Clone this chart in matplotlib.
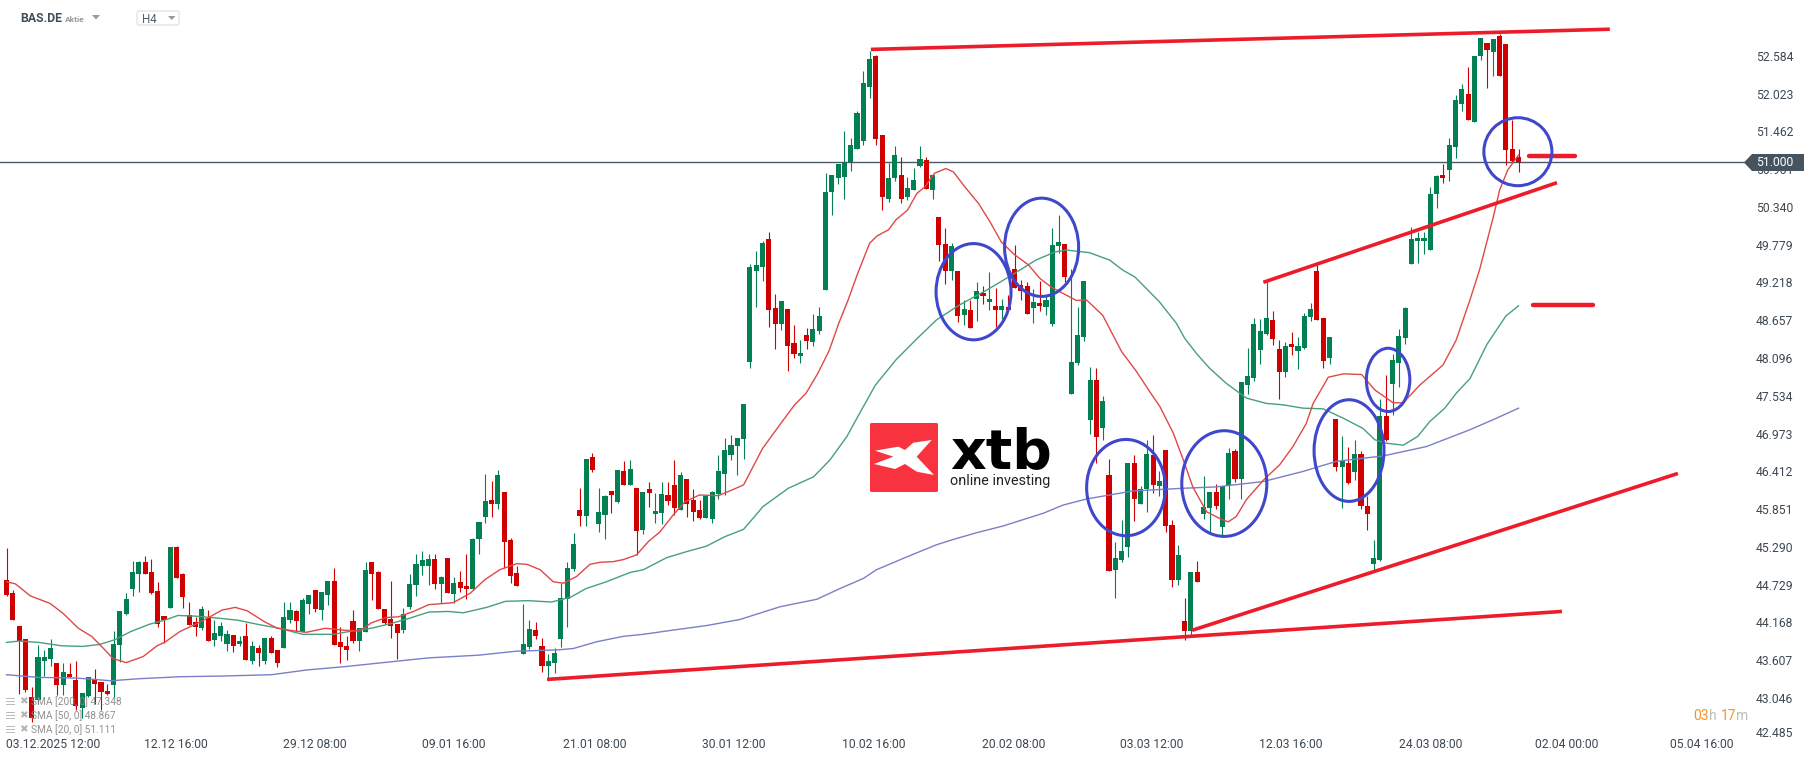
import numpy as np
import matplotlib
matplotlib.use("Agg")
import matplotlib.pyplot as plt
from matplotlib.patches import Ellipse, Polygon, FancyBboxPatch, Rectangle

# ---- candles (H4 BAS.DE) -------------------------------------------------
OPEN = [44.80,44.60,44.11,43.92,43.06,43.01,43.60,43.63,43.56,43.24,
43.40,43.31,42.90,43.07,43.31,43.28,43.15,43.24,43.83,44.29,
44.66,44.89,45.06,44.92,44.63,44.26,44.38,45.29,44.89,44.28,
44.17,44.08,44.23,43.91,43.97,43.85,43.98,43.85,43.97,43.59,
43.79,43.59,43.94,43.76,43.79,44.20,44.34,44.03,44.44,44.65,
44.35,44.57,44.78,43.88,43.82,44.19,43.89,44.03,45.06,44.92,
44.37,44.22,44.14,44.05,44.40,44.72,45.00,45.00,45.11,44.74,
45.12,44.59,44.77,44.71,44.66,45.41,45.73,45.98,45.93,46.10,
45.39,44.90,43.70,43.80,44.05,43.82,43.52,43.56,43.92,44.51,
44.96,45.84,45.75,46.62,45.63,45.76,46.12,45.96,46.42,46.21,
46.16,45.54,46.15,45.78,45.79,46.06,46.21,45.84,46.30,45.98,
45.84,45.72,45.70,46.07,46.37,46.65,46.79,46.89,48.04,49.39,
49.45,49.86,48.84,48.60,48.82,48.32,48.13,48.44,48.33,48.50,
49.11,50.56,50.77,50.78,51.01,51.20,51.32,52.12,52.58,51.41,
50.46,50.77,50.81,50.49,50.59,50.95,51.04,50.59,50.19,49.79,
49.39,49.39,48.73,48.81,48.97,49.06,48.93,48.87,48.81,48.85,
49.42,49.18,49.16,48.84,48.91,48.85,48.60,49.76,49.79,47.56,
48.02,48.41,47.17,47.77,47.06,46.36,44.95,45.09,45.29,46.54,
45.93,46.15,46.65,46.19,46.73,45.61,44.80,44.19,44.04,44.92,
45.78,45.87,46.10,45.59,46.19,46.71,46.30,47.69,47.80,48.21,
48.45,48.66,48.23,47.89,48.30,48.20,48.24,48.70,49.39,48.69,
48.10,47.19,46.48,46.54,46.40,46.67,45.90,45.03,45.09,47.23,
47.71,48.02,48.39,49.49,49.83,49.83,49.70,50.53,50.81,50.89,
51.23,51.87,52.02,51.60,52.58,52.77,52.64,52.88,52.76,51.20,51.08]
CLOSE = [44.57,44.20,43.89,43.16,42.74,43.65,43.65,43.79,43.24,43.43,
43.36,42.93,43.12,43.36,43.25,43.13,43.10,43.85,44.34,44.52,
44.92,45.06,44.89,44.60,44.14,44.21,45.29,44.83,44.54,44.13,
44.10,44.37,43.89,44.01,44.11,44.00,43.82,43.89,43.61,43.82,
43.71,43.94,43.71,43.56,44.25,44.35,44.19,44.50,44.57,44.37,
44.62,44.78,43.83,43.80,43.76,43.89,44.08,44.95,44.89,44.37,
44.16,44.11,44.01,44.29,44.74,45.03,45.09,45.11,44.74,44.84,
44.60,44.75,44.68,44.66,45.41,45.66,45.97,45.93,46.36,45.36,
44.86,44.71,43.85,44.07,43.96,43.52,43.59,43.71,44.53,44.98,
45.33,45.75,46.59,46.43,45.81,46.04,46.06,46.43,46.21,46.45,
45.52,46.10,46.09,45.82,46.07,45.97,45.87,46.36,45.93,45.81,
45.72,46.04,46.10,46.42,46.73,46.80,46.91,47.41,49.45,49.48,
49.80,48.81,48.60,48.94,48.27,48.15,48.17,48.35,48.53,48.72,
50.56,50.81,50.98,50.99,51.26,51.73,52.18,52.54,51.35,50.49,
50.77,51.11,50.46,50.62,50.74,51.05,50.61,50.81,49.77,49.39,
49.76,48.72,48.82,48.54,49.09,49.01,48.97,48.81,48.87,48.81,
49.13,49.09,48.75,48.93,48.87,48.96,49.77,49.82,49.30,48.04,
48.44,49.24,47.77,46.92,47.46,44.93,45.12,45.23,46.54,46.00,
46.15,46.67,46.21,46.27,45.60,44.80,45.17,44.04,44.92,44.77,
45.88,46.10,45.90,46.19,46.68,46.30,47.74,47.83,48.60,48.50,
48.69,48.38,47.89,48.27,48.26,48.27,48.72,48.82,48.66,48.05,
48.41,46.48,46.57,46.24,46.67,45.90,45.78,45.12,47.23,46.88,
48.07,48.42,48.84,49.86,49.88,49.88,50.53,50.80,50.77,51.26,
51.93,52.09,51.63,52.58,52.85,52.67,52.83,52.28,51.19,51.02,51.01]
HIGH = [45.27,44.65,44.11,43.92,43.21,43.83,43.75,43.92,43.56,43.57,
43.57,43.59,43.12,43.36,43.48,43.28,43.25,44.04,44.34,44.61,
45.08,45.08,45.15,45.11,44.77,44.26,45.29,45.30,44.90,44.47,
44.25,44.41,44.35,44.20,44.17,44.05,43.98,43.97,44.16,43.89,
43.83,43.94,43.96,43.76,44.47,44.47,44.35,44.53,44.57,44.65,
44.62,44.78,44.98,44.10,43.97,44.35,44.08,45.06,45.06,44.93,
44.37,44.78,44.14,44.38,44.89,45.18,45.23,45.18,45.18,44.86,
45.12,44.84,44.93,45.18,45.42,45.66,46.37,46.27,46.43,46.10,
45.42,45.00,44.44,44.20,44.17,43.93,43.70,43.79,44.75,45.06,
45.50,46.16,46.59,46.68,46.16,46.06,46.12,46.43,46.56,46.58,
46.16,46.10,46.25,46.09,46.25,46.25,46.58,46.40,46.30,46.15,
45.98,46.04,46.12,46.65,46.91,46.95,46.91,47.41,49.49,49.68,
49.83,49.97,49.05,48.94,48.82,48.59,48.36,48.54,48.75,48.85,
50.84,50.81,50.98,51.47,51.36,51.76,52.36,52.66,52.60,51.41,
50.99,51.24,51.08,50.78,50.92,51.24,51.08,50.81,50.19,50.03,
49.80,49.39,48.96,48.96,49.22,49.16,49.37,49.14,48.97,49.03,
49.77,49.25,49.22,49.12,49.24,49.03,50.03,50.22,49.79,49.42,
48.85,49.24,47.96,47.95,47.53,46.60,45.36,45.69,46.54,46.65,
46.19,46.88,46.95,46.42,46.73,45.69,45.32,44.53,44.92,45.08,
46.34,46.10,46.22,46.19,46.76,46.74,47.74,48.24,48.69,48.67,
49.22,48.79,48.36,48.33,48.48,48.41,48.76,48.91,49.48,48.69,
48.41,47.19,46.94,46.77,46.88,46.71,46.05,45.39,47.49,47.84,
48.15,48.53,48.85,50.04,49.97,49.97,50.64,50.81,50.98,51.36,
52.00,52.17,52.42,52.58,52.85,52.77,52.83,52.91,52.76,51.63,51.20]
LOW = [44.56,44.20,43.11,43.14,42.69,42.96,43.37,43.52,43.09,43.09,
43.35,42.86,42.74,43.06,42.96,42.87,43.09,43.04,43.58,44.28,
44.56,44.62,44.89,44.59,44.10,43.86,44.38,44.83,44.38,44.13,
43.96,44.05,43.89,43.82,43.89,43.74,43.73,43.82,43.61,43.55,
43.52,43.55,43.71,43.51,43.79,44.16,44.04,44.03,44.29,44.32,
44.20,44.43,43.83,43.56,43.61,43.86,43.74,44.03,44.50,44.37,
44.14,43.94,43.62,44.01,44.37,44.56,44.87,44.72,44.66,44.45,
44.60,44.45,44.62,44.51,44.65,45.18,45.64,45.73,45.85,44.98,
44.75,44.71,43.70,43.77,43.92,43.43,43.33,43.41,43.80,44.10,
44.93,45.60,45.60,46.40,45.51,45.41,45.79,45.94,46.21,46.21,
45.17,45.48,45.88,45.64,45.63,45.91,45.76,45.84,45.73,45.67,
45.70,45.72,45.64,46.00,46.06,46.58,46.36,46.59,47.95,48.85,
49.24,48.56,48.23,48.51,47.90,48.10,48.02,48.23,48.27,48.45,
49.11,50.22,50.68,50.46,50.87,51.20,51.26,51.96,51.26,50.29,
50.41,50.72,50.40,50.44,50.59,50.93,50.61,50.46,49.54,49.19,
49.25,48.63,48.59,48.54,48.64,48.90,48.81,48.56,48.67,48.81,
49.13,48.96,48.75,48.62,48.79,48.73,48.57,49.66,49.22,47.56,
47.99,48.35,46.97,46.54,46.88,44.93,44.53,45.07,45.14,45.67,
45.93,45.81,46.09,46.05,45.51,44.69,44.72,43.91,43.97,44.77,
45.70,45.51,45.85,45.47,46.00,46.25,46.00,47.56,47.75,48.01,
48.44,48.29,47.49,47.81,48.14,47.93,48.23,48.64,48.66,47.95,
48.01,46.42,45.87,46.22,46.28,45.85,45.54,44.93,45.08,46.86,
47.25,47.67,48.30,49.49,49.51,49.64,49.70,50.32,50.69,50.72,
51.07,51.77,51.63,51.60,52.52,52.11,52.28,52.28,50.96,51.01,50.86]

# ---- moving averages (bar number, price) ---------------------------------
SMA20_BAR = [1,2.4,4.8,7.9,10,12.4,14.5,16.4,17.9,20,22.7,24.9,26.1,28.5,31,33.1,35.2,37.3,39.2,41.9,44,46.7,48.6,51.6,54.6,57.1,58.9,61.3,63.2,65.6,68,71.9,74.6,76.9,79.3,82,83.6,85.7,87.8,89.4,91.5,93.6,95.2,97.3,98.9,101,102.9,104.7,106.8,108.7,111,114,115.8,118,119.5,121,123.8,126.1,127.9,129.8,131.6,133.1,134.6,136.1,138,139.2,141,142.2,144,145.5,146.8,148.3,150.1,151.3,153.1,155.3,157.1,158.9,161,163.2,165,166.8,168.2,170.8,172.4,175,178,180.4,182.5,184.1,186.2,187.8,189.3,191.5,193.6,194.9,196.2,197.8,200.5,203.1,205.2,207.3,208.4,210.8,213.2,216.1,218.2,221.1,222.7,225.3,229,231.1,233.3,234.8,237,238,239.3,241]
SMA20_VAL = [44.77,44.74,44.56,44.45,44.30,44.08,43.96,43.78,43.63,43.57,43.66,43.82,43.87,44.03,44.14,44.24,44.35,44.39,44.34,44.18,44.08,44.04,44.02,44.08,44.05,44.04,44.16,44.24,44.25,44.33,44.43,44.46,44.60,44.80,44.95,45.04,45.03,44.95,44.77,44.75,44.85,45.03,45.06,45.07,45.10,45.17,45.37,45.51,45.76,45.96,46.06,46.05,46.12,46.21,46.48,46.75,47.11,47.40,47.57,47.87,48.21,48.61,48.96,49.35,49.80,49.91,50.00,50.15,50.29,50.54,50.64,50.84,50.91,50.86,50.64,50.39,50.12,49.82,49.63,49.48,49.28,49.15,49.08,48.95,48.96,48.73,48.19,47.89,47.59,47.37,46.98,46.58,46.18,45.81,45.71,45.66,45.74,45.99,46.28,46.51,46.78,47.12,47.42,47.81,47.86,47.85,47.62,47.43,47.43,47.69,47.99,48.36,48.96,49.40,50.19,50.59,50.89,51.11]
SMA50_BAR = [1,3,6.1,9.7,13.1,15.8,18.2,20.7,23.7,26.1,28.2,31,34.6,37.7,41.3,44.3,48,52.9,55.9,58.9,62,65,68,71.1,73.5,77.2,80.2,83.8,87.5,90.5,93,96.2,100,102.1,105.8,109,112.1,115,118,121.1,125.1,129.1,131.7,134.4,135.8,138.9,142.2,145.6,148.6,152.2,156.5,160.1,164.4,167.4,169.2,172.9,176.1,178.2,180.1,181.9,184,186.7,188,189.9,192,194.6,197.8,201,203.6,206.8,210,213.2,216.3,218.2,220,222.7,225,226.9,229.3,231.1,233.3,236,239,241]
SMA50_VAL = [43.87,43.89,43.87,43.82,43.81,43.84,43.91,44.03,44.14,44.20,44.27,44.26,44.23,44.20,44.13,44.08,43.99,43.99,44.04,44.08,44.15,44.23,44.32,44.33,44.31,44.39,44.48,44.49,44.47,44.54,44.67,44.77,44.91,44.95,45.13,45.22,45.30,45.44,45.55,45.89,46.16,46.33,46.58,46.93,47.17,47.69,48.07,48.39,48.66,48.88,49.10,49.30,49.55,49.67,49.70,49.66,49.55,49.40,49.30,49.13,48.93,48.61,48.39,48.16,47.94,47.72,47.50,47.42,47.40,47.35,47.34,47.20,47.05,46.88,46.83,46.80,46.93,47.15,47.35,47.57,47.79,48.30,48.72,48.87]
SMA200_BAR = [1,6.1,12.2,17.6,21.9,28.6,35.2,43.1,48.6,54.7,60.8,68,75.9,82,88.7,91,94.7,98.9,102.1,105.8,112.1,117.4,123.8,129.6,133.3,137,139.1,143.9,148.6,151.3,155,159.2,165.6,168.7,172.4,179.8,187.8,193,200.5,206.8,212.1,219.5,226.4,233.3,237,241]
SMA200_VAL = [43.39,43.35,43.34,43.30,43.33,43.36,43.37,43.39,43.46,43.51,43.57,43.64,43.68,43.74,43.76,43.78,43.88,43.96,43.99,44.04,44.12,44.21,44.40,44.51,44.67,44.82,44.95,45.14,45.32,45.40,45.50,45.60,45.79,45.91,46.00,46.12,46.16,46.18,46.26,46.41,46.56,46.64,46.78,47.03,47.18,47.35]

# ---- drawn annotations ---------------------------------------------------
TREND_BAR = [(138.2,255.5),(86.8,247.9),(189.2,266.3),(200.5,247.1)]
TREND_VAL = [(52.68,52.98),(43.32,44.33),(44.05,46.38),(49.22,50.70)]
LEVEL_BAR = [(242.7,249.9),(243.3,252.9)]
LEVEL_VAL = [51.10,48.88]
CIRCLE_BAR = [154.5,165.3,178.7,194.3,214.1,220.3,240.9]
CIRCLE_VAL = [49.08,49.74,46.17,46.23,46.72,47.77,51.16]
CIRCLE_W = [11.9,11.75,12.5,13.5,11.1,6.9,10.8]
CIRCLE_H = [1.43,1.46,1.43,1.57,1.51,0.94,1.01]

# ---- axis texts ----------------------------------------------------------
Y_TICKS = [52.584,52.023,51.462,50.901,50.340,49.779,49.218,48.657,48.096,47.534,
           46.973,46.412,45.851,45.290,44.729,44.168,43.607,43.046,42.540]
Y_LABELS = ["52.584","52.023","51.462","50.901","50.340","49.779","49.218","48.657","48.096","47.534",
            "46.973","46.412","45.851","45.290","44.729","44.168","43.607","43.046","42.485"]
X_TICKS = [8.4,27.9,50,72,94.3,116.5,138.7,160.8,182.8,204.9,227,248.7,270.1]
X_LABELS = ["03.12.2025 12:00","12.12 16:00","29.12 08:00","09.01 16:00","21.01 08:00","30.01 12:00",
            "10.02 16:00","20.02 08:00","03.03 12:00","12.03 16:00","24.03 08:00","02.04 00:00","05.04 16:00"]
LAST_PRICE = 51.0
SMA_LEGEND = ["SMA [200, 0] 47.348","SMA [50, 0] 48.867","SMA [20, 0] 51.111"]

assert len(OPEN)==len(CLOSE)==len(HIGH)==len(LOW)==241
assert len(SMA20_BAR)==len(SMA20_VAL) and len(SMA50_BAR)==len(SMA50_VAL) and len(SMA200_BAR)==len(SMA200_VAL)

UP, DOWN = "#038052", "#d10000"
TXT = "#3d4852"
plt.rcParams["font.family"] = ["Roboto", "DejaVu Sans"]

fig = plt.figure(figsize=(18.16, 7.61), dpi=100, facecolor="white")
ax = fig.add_axes([0, 0, 1, 1])
ax.set_xlim(-0.032, 288.22)
ax.set_ylim(42.108, 53.414)
for s in ax.spines.values():
    s.set_visible(False)

o, c, h, l = map(np.array, (OPEN, CLOSE, HIGH, LOW))
x = np.arange(1, len(o) + 1)
col = np.where(c >= o, UP, DOWN)

ax.axhline(LAST_PRICE, xmax=1744/1816, color="#47596a", lw=1.0, zorder=1)
ax.vlines(x, l, h, colors=col, lw=0.8, zorder=2)
ax.bar(x, np.abs(c - o), bottom=np.minimum(o, c), width=0.8, color=col, lw=0, zorder=3)

ax.plot(SMA200_BAR, SMA200_VAL, color="#7a7fc8", lw=1.0, zorder=4)
ax.plot(SMA50_BAR, SMA50_VAL, color="#46a07e", lw=1.0, zorder=4)
ax.plot(SMA20_BAR, SMA20_VAL, color="#e04848", lw=1.0, zorder=4)

for bx, vy in zip(TREND_BAR, TREND_VAL):
    ax.plot(bx, vy, color="#ed1c2a", lw=2.6, solid_capstyle="butt", zorder=5)
for bx, vy in zip(LEVEL_BAR, LEVEL_VAL):
    ax.plot(bx, (vy, vy), color="#ed1c2a", lw=3.2, solid_capstyle="round", zorder=5)
for cx, cy, w, he in zip(CIRCLE_BAR, CIRCLE_VAL, CIRCLE_W, CIRCLE_H):
    ax.add_patch(Ellipse((cx, cy), w, he, fill=False, ec="#3f48cc", lw=2.2, zorder=6))

ax.set_yticks(Y_TICKS, Y_LABELS, fontsize=8.7, color=TXT)
ax.yaxis.tick_right()
ax.tick_params(axis="y", length=0, pad=-43.2, labelsize=8.7, labelcolor=TXT)
ax.set_xticks(X_TICKS, X_LABELS, fontsize=8.7, color=TXT)
ax.tick_params(axis="x", length=0, pad=-16.2, labelsize=8.7, labelcolor=TXT)

# overlay in reference pixel units for chrome, logo and labels
ov = fig.add_axes([0, 0, 1, 1], facecolor="none")
ov.set_xlim(0, 1816)
ov.set_ylim(761, 0)
ov.axis("off")

# price tag
ov.add_patch(Polygon([(1744,162.5),(1752,154),(1804,154),(1804,171),(1752,171)], fc="#46545f", ec="none"))
ov.text(1756, 162.8, "51.000", color="white", fontsize=8.7, va="center", ha="left")

# header
ov.text(20, 19, "BAS.DE", color="#3f4f5b", fontsize=8.8, fontweight="bold", va="center")
ov.text(65, 19.5, "Aktie", color="#999999", fontsize=6, fontweight="bold", va="center")
ov.add_patch(Polygon([(92,15),(100,15),(96,19.5)], fc="#999999", ec="none"))
ov.add_patch(FancyBboxPatch((137,11), 42, 14, boxstyle="round,pad=0,rounding_size=2", fc="white", ec="#dddddd", lw=0.8))
ov.text(142, 19.5, "H4", color="#555f66", fontsize=8.4, va="center")
ov.add_patch(Polygon([(168,16),(175.5,16),(171.8,20)], fc="#999999", ec="none"))

# SMA legend
for yy, label in zip((701.7, 715.7, 729.7), SMA_LEGEND):
    for dy in (-3.2, -0.2, 2.8):
        ov.add_patch(Rectangle((6, yy + dy - 0.9), 9, 1.8, fc="#b5b5b5", ec="none", alpha=0.9))
    ov.text(23, yy, "✖", color="#b5b5b5", fontsize=7.5, family="DejaVu Sans", va="center", ha="center")
    ov.text(31, yy, label, color="#8c8c8c", fontsize=7.3, va="center", ha="left", alpha=0.95)

# countdown
ov.text(1693.3, 716, "03", color="#f7941e", fontsize=10, va="center")
ov.text(1709, 716, "h", color="#bdbdbd", fontsize=10, va="center")
ov.text(1720.7, 716, "17", color="#f7941e", fontsize=10, va="center")
ov.text(1736, 716, "m", color="#bdbdbd", fontsize=10, va="center")

# xtb logo
ov.add_patch(FancyBboxPatch((870,423), 68, 69, boxstyle="round,pad=0,rounding_size=1.5", fc="#f93240", ec="none"))
logo_z = [(465,152),(535,140),(555,150),(580,128),(635,120),(590,170),(642,225),(590,215),(555,192),(525,207),(462,192),(520,170)]
ov.add_patch(Polygon([(720+a/3, 400+b/3) for a, b in logo_z], fc="white", ec="none"))
ov.text(950, 468.5, "xtb", color="black", fontsize=40, fontweight="bold", family="DejaVu Sans", va="baseline", ha="left")
ov.text(950.5, 485, "online investing", color="#222222", fontsize=10.4, family="Roboto", va="baseline", ha="left")

fig.savefig("out.png", dpi=100)
